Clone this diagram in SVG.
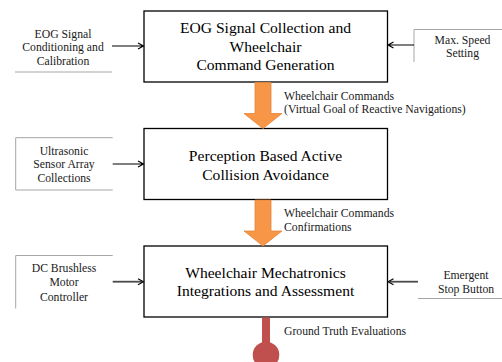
<svg xmlns="http://www.w3.org/2000/svg" width="502" height="362" viewBox="0 0 502 362">
  <style>
    .main { fill: #ffffff; stroke: #000000; stroke-width: 1.3; }
    .edge { fill: none; stroke: #a6a6a6; stroke-width: 1; }
    .link { fill: none; stroke: #000000; stroke-width: 1.1; }
    .link-heavy { fill: none; stroke: #4a4a4a; stroke-width: 1.8; }
    .flow { fill: #f79646; stroke: #e3853a; stroke-width: 0.8; }
    .probe { fill: #c0504d; }
  </style>

  <rect width="502" height="362" fill="#ffffff"/>

  <!-- main processing blocks -->
  <g id="command-generation">
    <rect class="main" x="144" y="11" width="243.5" height="71"/>
    <text x="265.5" y="33" font-family="Liberation Serif" font-size="15.6" text-anchor="middle">EOG Signal Collection and</text>
    <text x="265.5" y="51.5" font-family="Liberation Serif" font-size="15.6" text-anchor="middle">Wheelchair</text>
    <text x="265.5" y="70" font-family="Liberation Serif" font-size="15.6" text-anchor="middle">Command Generation</text>
  </g>

  <g id="collision-avoidance">
    <rect class="main" x="144" y="128.5" width="243.5" height="71"/>
    <text x="265.5" y="161" font-family="Liberation Serif" font-size="15.6" text-anchor="middle">Perception Based Active</text>
    <text x="265.5" y="179.5" font-family="Liberation Serif" font-size="15.6" text-anchor="middle">Collision Avoidance</text>
  </g>

  <g id="mechatronics">
    <rect class="main" x="144" y="246" width="243.5" height="71"/>
    <text x="265.5" y="278" font-family="Liberation Serif" font-size="15.6" text-anchor="middle">Wheelchair Mechatronics</text>
    <text x="265.5" y="296" font-family="Liberation Serif" font-size="15.6" text-anchor="middle">Integrations and Assessment</text>
  </g>

  <!-- side inputs -->
  <g id="eog-conditioning">
    <line class="edge" x1="15" y1="72" x2="112" y2="72"/>
    <text x="63" y="37.5" font-family="Liberation Serif" font-size="11.7" fill="#1a1a1a" text-anchor="middle">EOG Signal</text>
    <text x="63" y="51.2" font-family="Liberation Serif" font-size="11.7" fill="#1a1a1a" text-anchor="middle">Conditioning and</text>
    <text x="63" y="65" font-family="Liberation Serif" font-size="11.7" fill="#1a1a1a" text-anchor="middle">Calibration</text>
  </g>

  <g id="max-speed">
    <path class="edge" d="M414,62 L414,29.5 L502,29.5"/>
    <text x="462.5" y="43.5" font-family="Liberation Serif" font-size="11.7" fill="#1a1a1a" text-anchor="middle">Max. Speed</text>
    <text x="462.5" y="57" font-family="Liberation Serif" font-size="11.7" fill="#1a1a1a" text-anchor="middle">Setting</text>
  </g>

  <g id="ultrasonic">
    <path class="edge" d="M112.7,137.7 L15.7,137.7 L15.7,190 L112.7,190"/>
    <text x="64" y="154.5" font-family="Liberation Serif" font-size="11.7" fill="#1a1a1a" text-anchor="middle">Ultrasonic</text>
    <text x="64" y="168.3" font-family="Liberation Serif" font-size="11.7" fill="#1a1a1a" text-anchor="middle">Sensor Array</text>
    <text x="64" y="182.3" font-family="Liberation Serif" font-size="11.7" fill="#1a1a1a" text-anchor="middle">Collections</text>
  </g>

  <g id="motor-controller">
    <path class="edge" d="M15.7,308.5 L15.7,255.5 L112.7,255.5"/>
    <text x="64" y="272" font-family="Liberation Serif" font-size="11.7" fill="#1a1a1a" text-anchor="middle">DC Brushless</text>
    <text x="64" y="286" font-family="Liberation Serif" font-size="11.7" fill="#1a1a1a" text-anchor="middle">Motor</text>
    <text x="64" y="300.5" font-family="Liberation Serif" font-size="11.7" fill="#1a1a1a" text-anchor="middle">Controller</text>
  </g>

  <g id="emergency-stop">
    <line class="edge" x1="418" y1="298.5" x2="502" y2="298.5"/>
    <text x="466" y="278.5" font-family="Liberation Serif" font-size="11.7" fill="#1a1a1a" text-anchor="middle">Emergent</text>
    <text x="466" y="292.5" font-family="Liberation Serif" font-size="11.7" fill="#1a1a1a" text-anchor="middle">Stop Button</text>
  </g>

  <!-- connectors: lines with open chevron heads -->
  <g id="connectors">
    <path class="link" d="M112,46 L143.5,46 M138,43 L143.5,46 L138,49"/>
    <path class="link" d="M414,45 L388,45 M393.5,42 L388,45 L393.5,48"/>
    <path class="link" d="M112.7,164 L143.5,164 M138,161 L143.5,164 L138,167"/>
    <path class="link-heavy" d="M112.7,281.7 L142,281.7"/>
    <path class="link" d="M138,278.7 L143.5,281.7 L138,284.7"/>
    <path class="link-heavy" d="M418,281.7 L389.5,281.7"/>
    <path class="link" d="M393.5,278.7 L388,281.7 L393.5,284.7"/>

    <path class="flow" d="M255,82.5 L271,82.5 L271,113.5 L282,113.5 L263,128.5 L244,113.5 L255,113.5 Z"/>
    <path class="flow" d="M255,200 L271,200 L271,231 L282,231 L263,246 L244,231 L255,231 Z"/>

    <rect class="probe" x="262" y="317.5" width="8" height="30"/>
    <circle class="probe" cx="266" cy="355" r="13.3"/>
  </g>

  <!-- connector labels -->
  <g id="labels">
    <text x="284" y="99.5" font-family="Liberation Serif" font-size="11.7" fill="#1a1a1a">Wheelchair Commands</text>
    <text x="284" y="113.3" font-family="Liberation Serif" font-size="11.7" fill="#1a1a1a">(Virtual Goal of Reactive Navigations)</text>
    <text x="284" y="217.3" font-family="Liberation Serif" font-size="11.7" fill="#1a1a1a">Wheelchair Commands</text>
    <text x="284" y="231" font-family="Liberation Serif" font-size="11.7" fill="#1a1a1a">Confirmations</text>
    <text x="284" y="335.3" font-family="Liberation Serif" font-size="11.7" fill="#1a1a1a">Ground Truth Evaluations</text>
  </g>
</svg>
